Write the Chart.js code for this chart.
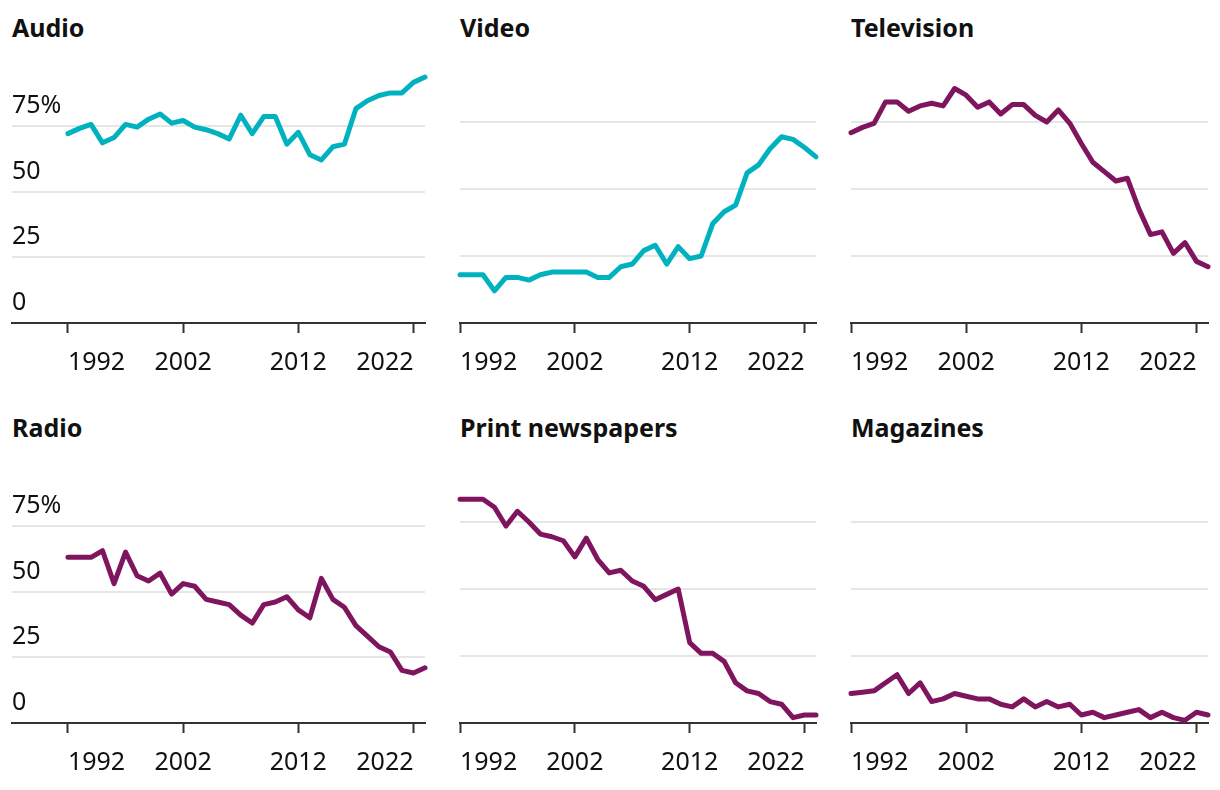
<!DOCTYPE html>
<html>
<head>
<meta charset="utf-8">
<script src="https://cdn.jsdelivr.net/npm/chart.js@4.4.1/dist/chart.umd.min.js"></script>
<style>
  body { margin: 0; background: #fff; width: 1220px; height: 790px; position: relative; overflow: hidden; font-family: "Noto Sans", sans-serif; }
  .title { position: absolute; font-weight: 700; font-size: 25px; line-height: 25px; color: #111; white-space: nowrap; }
  .box { position: absolute; }
</style>
</head>
<body>

<script>
const years = [1992, 1993, 1994, 1995, 1996, 1997, 1998, 1999, 2000, 2001, 2002, 2003, 2004, 2005, 2006, 2007,
  2008, 2009, 2010, 2011, 2012, 2013, 2014, 2015, 2016, 2017, 2018, 2019, 2020, 2021, 2022, 2023];

const audio = [72, 74, 75.5, 68.5, 70.5, 75.5, 74.5, 77.5, 79.5, 76, 77, 74.5, 73.5, 72, 70, 79,
  72, 78.5, 78.5, 68, 72.5, 64, 62, 67, 68, 81.5, 84.5, 86.5, 87.5, 87.5, 91.5, 93.5];
const video = [18, 18, 18, 12, 17, 17, 16, 18, 19, 19, 19, 19, 17, 17, 21, 22,
  27, 29, 22, 28.5, 24, 25, 37, 41.5, 44, 56, 59, 65, 69.5, 68.5, 65.5, 62];
const television = [71, 73, 74.5, 82.5, 82.5, 79, 81, 82, 81, 87.5, 85, 80.5, 82.5, 78, 81.5, 81.5,
  77.5, 75, 79.5, 74.5, 67, 60, 56.5, 53, 54, 42.5, 33, 34, 26, 30, 23, 21];
const radio = [63, 63, 63, 65.5, 53, 65, 56, 54, 57, 49, 53, 52, 47, 46, 45, 41,
  38, 45, 46, 48, 43, 40, 55, 47, 44, 37, 33, 29, 27, 20, 19, 21];
const newspapers = [83.5, 83.5, 83.5, 80.5, 73.5, 79, 75, 70.5, 69.5, 68, 62, 69, 61, 56, 57, 53,
  51, 46, 48, 50, 30, 26, 26, 23, 15, 12, 11, 8, 7, 2, 3, 3];
const magazines = [11, 11.5, 12, 15, 18, 11, 15, 8, 9, 11, 10, 9, 9, 7, 6, 9,
  6, 8, 6, 7, 3, 4, 2, 3, 4, 5, 2, 4, 2, 1, 4, 3];

const xTickYears = [1992, 2002, 2012, 2022];
const yTickValues = [0, 25, 50, 75];

const TEAL = '#00b2bf';
const PURPLE = '#80155f';

const panels = [
  { title: 'Audio', values: audio, color: TEAL, left: 0, top: 0, width: 440, padL: 12, padR: 15, xMin: 1987.14, showY: true },
  { title: 'Video', values: video, color: TEAL, left: 440, top: 0, width: 390, padL: 20, padR: 14, xMin: 1992, showY: false },
  { title: 'Television', values: television, color: PURPLE, left: 830, top: 0, width: 390, padL: 21, padR: 12, xMin: 1992, showY: false },
  { title: 'Radio', values: radio, color: PURPLE, left: 0, top: 400, width: 440, padL: 12, padR: 15, xMin: 1987.14, showY: true },
  { title: 'Print newspapers', values: newspapers, color: PURPLE, left: 440, top: 400, width: 390, padL: 20, padR: 14, xMin: 1992, showY: false },
  { title: 'Magazines', values: magazines, color: PURPLE, left: 830, top: 400, width: 390, padL: 21, padR: 12, xMin: 1992, showY: false }
];

const tickFont = { family: '"Noto Sans", sans-serif', size: 25 };

panels.forEach(function (p, i) {
  const t = document.createElement('div');
  t.className = 'title';
  t.textContent = p.title;
  t.style.left = (p.left + p.padL) + 'px';
  t.style.top = (p.top + 15) + 'px';
  document.body.appendChild(t);

  const box = document.createElement('div');
  box.className = 'box';
  box.style.left = p.left + 'px';
  box.style.top = (p.top + 45) + 'px';
  box.style.width = p.width + 'px';
  box.style.height = '348px';
  const cv = document.createElement('canvas');
  cv.id = 'panel' + i;
  box.appendChild(cv);
  document.body.appendChild(box);

  new Chart(cv, {
    type: 'line',
    data: {
      datasets: [{
        label: p.title,
        data: years.map((y, k) => ({ x: y, y: p.values[k] })),
        borderColor: p.color,
        borderWidth: 5,
        pointRadius: 0,
        tension: 0,
        borderJoinStyle: 'round',
        borderCapStyle: 'round',
        clip: false
      }]
    },
    options: {
      responsive: true,
      maintainAspectRatio: false,
      animation: false,
      layout: { padding: { left: p.padL, right: p.padR, top: 10, bottom: 0 } },
      plugins: { legend: { display: false }, tooltip: { enabled: false } },
      scales: {
        x: {
          type: 'linear',
          min: p.xMin,
          max: 2023,
          afterBuildTicks: s => { s.ticks = xTickYears.map(v => ({ value: v })); },
          grid: { drawOnChartArea: false, drawTicks: true, tickLength: 10, tickWidth: 2, color: '#333' },
          border: { display: true, color: '#333', width: 2 },
          ticks: {
            align: 'inner',
            autoSkip: false,
            maxRotation: 0,
            padding: 15,
            color: '#111',
            font: tickFont,
            callback: v => String(v)
          }
        },
        y: {
          min: 0,
          max: 100,
          afterBuildTicks: s => { s.ticks = yTickValues.map(v => ({ value: v })); },
          grid: {
            drawTicks: false,
            lineWidth: 2,
            color: c => (c.tick && c.tick.value === 0) ? 'rgba(0,0,0,0)' : '#e6e6e6'
          },
          border: { display: false },
          ticks: {
            display: p.showY,
            mirror: true,
            padding: 0,
            labelOffset: -20,
            color: '#111',
            font: tickFont,
            callback: v => v === 75 ? '75%' : String(v)
          }
        }
      }
    }
  });
});
</script>
</body>
</html>
